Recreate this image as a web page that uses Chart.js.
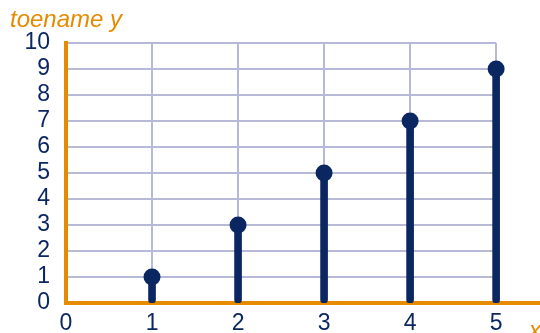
<!DOCTYPE html>
<html><head><meta charset="utf-8">
<script src="https://cdn.jsdelivr.net/npm/chart.js@4/dist/chart.umd.min.js"></script>
<style>html,body{margin:0;padding:0;background:#fff;}#wrap{width:540px;height:333px;position:relative;}</style>
</head><body><div id="wrap"><canvas id="c"></canvas></div>
<script>
const xValues = [1, 2, 3, 4, 5];
const yValues = [1, 3, 5, 7, 9];
const xTicks = [0, 1, 2, 3, 4, 5];
const yTicks = [0, 1, 2, 3, 4, 5, 6, 7, 8, 9, 10];
const yTitle = 'toename y';
const xTitle = 'x';

const NAVY = '#0b2762';
const ORANGE = '#e68a00';
const GRID = '#b6bad6';
const FONT = "'Liberation Sans', Arial, sans-serif";

const points = xValues.map((x, i) => ({x: x, y: yValues[i]}));

const extras = {
  id: 'extras',
  beforeDatasetsDraw(chart) {
    const {ctx} = chart;
    const xs = chart.scales.x, ys = chart.scales.y;
    ctx.save();
    ctx.strokeStyle = GRID;
    ctx.lineWidth = 2;
    const x0 = xs.getPixelForValue(xTicks[0]) + 2;
    const x1 = xs.getPixelForValue(xTicks[xTicks.length - 1]);
    yTicks.forEach(v => {
      if (v === yTicks[0]) return;
      const y = Math.round(ys.getPixelForValue(v));
      ctx.beginPath();
      ctx.moveTo(x0, y);
      ctx.lineTo(x1, y);
      ctx.stroke();
    });
    ctx.restore();
  },
  afterDraw(chart) {
    const {ctx} = chart;
    ctx.save();
    ctx.fillStyle = ORANGE;
    ctx.font = 'italic 24px ' + FONT;
    ctx.textAlign = 'left';
    ctx.textBaseline = 'alphabetic';
    ctx.fillText(yTitle, 10, 27);
    ctx.fillText(xTitle, 529, 338);
    ctx.restore();
  }
};

new Chart(document.getElementById('c'), {
  data: {
    datasets: [
      {
        type: 'scatter',
        data: points,
        pointRadius: 8.5,
        pointHoverRadius: 8.5,
        pointBackgroundColor: NAVY,
        pointBorderColor: NAVY,
        pointBorderWidth: 0,
        clip: false,
        order: 0
      },
      {
        type: 'bar',
        data: points,
        backgroundColor: NAVY,
        barThickness: 7,
        borderRadius: 3.5,
        borderSkipped: false,
        order: 1
      }
    ]
  },
  options: {
    responsive: true,
    maintainAspectRatio: false,
    animation: false,
    events: [],
    layout: {autoPadding: false, padding: {top: 43, right: 0, left: 0, bottom: 0}},
    plugins: {legend: {display: false}, tooltip: {enabled: false}, title: {display: false}},
    scales: {
      x: {
        type: 'linear',
        min: 0,
        max: 5.51,
        offset: false,
        afterBuildTicks: s => { s.ticks = xTicks.map(v => ({value: v})); },
        afterFit: s => { s.height = 30; s.paddingLeft = 0; s.paddingRight = 0; },
        ticks: {color: NAVY, font: {family: FONT, size: 23}, padding: 7, maxRotation: 0, autoSkip: false},
        grid: {
          offset: false,
          drawTicks: false,
          lineWidth: 2,
          color: ctx => (ctx.tick && ctx.tick.value === 0) ? 'rgba(0,0,0,0)' : GRID
        },
        border: {display: true, color: ORANGE, width: 4}
      },
      y: {
        type: 'linear',
        min: 0,
        max: 10,
        afterBuildTicks: s => { s.ticks = yTicks.map(v => ({value: v})); },
        afterFit: s => { s.width = 66; },
        ticks: {color: NAVY, font: {family: FONT, size: 23}, padding: 16, autoSkip: false},
        grid: {display: false, drawTicks: false},
        border: {display: true, color: ORANGE, width: 4}
      }
    }
  },
  plugins: [extras]
});
</script>
</body></html>
